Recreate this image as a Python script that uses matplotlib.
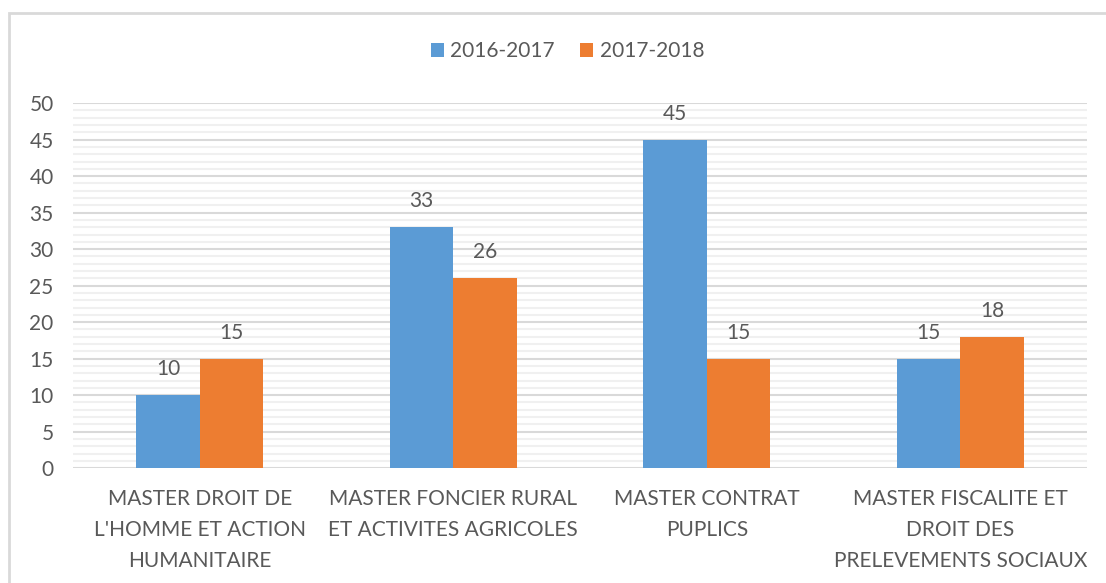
import numpy as np
import matplotlib.pyplot as plt
from matplotlib.patches import Rectangle

# Data
categories = [
    "MASTER DROIT DE\nL'HOMME ET ACTION\nHUMANITAIRE",
    "MASTER FONCIER RURAL\nET ACTIVITES AGRICOLES",
    "MASTER CONTRAT\nPUPLICS",
    "MASTER FISCALITE ET\nDROIT DES\nPRELEVEMENTS SOCIAUX",
]
series_names = ["2016-2017", "2017-2018"]
values_2016 = [10, 33, 45, 15]
values_2017 = [15, 26, 15, 18]
colors = ["#5b9bd5", "#ed7d31"]
text_color = "#595959"

plt.rcParams['font.family'] = ['Lato', 'DejaVu Sans']

fig = plt.figure(figsize=(11.06, 5.83), dpi=100)
ax = fig.add_axes([0.066, 0.197, 0.917, 0.626])

x = np.arange(len(categories))
w = 0.25
b1 = ax.bar(x - w / 2, values_2016, w, color=colors[0], label=series_names[0], zorder=3)
b2 = ax.bar(x + w / 2, values_2017, w, color=colors[1], label=series_names[1], zorder=3)

for bars in (b1, b2):
    for bar in bars:
        h = bar.get_height()
        ax.text(bar.get_x() + bar.get_width() / 2, h + 2.2, f"{h:g}",
                ha='center', va='bottom', fontsize=15, color=text_color)

ax.set_xlim(-0.5, len(categories) - 0.5)
ax.set_ylim(0, 50)
ax.set_yticks(np.arange(0, 51, 5))
ax.set_yticks(np.arange(0, 51, 1), minor=True)
ax.grid(axis='y', which='major', color='#d9d9d9', linewidth=1.5, zorder=0)
ax.grid(axis='y', which='minor', color='#f0f0f0', linewidth=1.5, zorder=0)
ax.tick_params(axis='both', which='both', length=0, labelsize=15, labelcolor=text_color)
ax.tick_params(axis='y', pad=14)
ax.tick_params(axis='x', pad=15)
ax.set_xticks(x)
ax.set_xticklabels(categories, linespacing=1.68)
for s in ax.spines.values():
    s.set_visible(False)

leg = fig.legend(loc='center', bbox_to_anchor=(0.513, 0.912), ncol=2, frameon=False,
                 fontsize=15, handlelength=0.65, handleheight=0.65, handletextpad=0.3,
                 columnspacing=1.2)
for t in leg.get_texts():
    t.set_color(text_color)

# Chart frame
fig.patches.append(Rectangle((9 / 1106, -0.05), 1.2, 1 - 13 / 583 + 0.05,
                             transform=fig.transFigure, fill=False,
                             edgecolor='#d9d9d9', linewidth=2))

fig.savefig('out.png', dpi=100)
